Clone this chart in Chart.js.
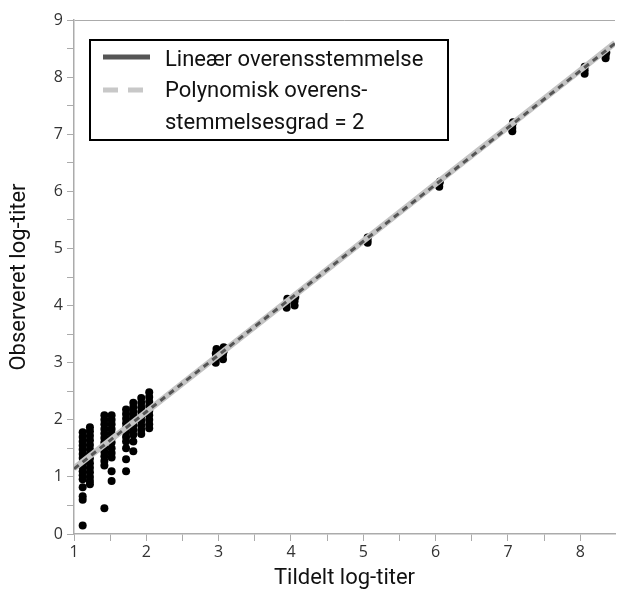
<!DOCTYPE html>
<html>
<head>
<meta charset="utf-8">
<script src="https://cdn.jsdelivr.net/npm/chart.js@4"></script>
<style>
  html, body { margin: 0; padding: 0; background: #fff; }
  #wrap { width: 619px; height: 592px; position: relative; }
</style>
</head>
<body>
<div id="wrap"><canvas id="titerChart"></canvas></div>
<script>
// observed points, one x per column of dots
const obsX = [
  1.12, 1.12, 1.12, 1.12, 1.12, 1.12, 1.12, 1.12, 1.12, 1.12, 1.12, 1.12, 1.12, 1.12, 1.12, 1.12,
  1.22, 1.22, 1.22, 1.22, 1.22, 1.22, 1.22, 1.22, 1.22, 1.22, 1.22, 1.22, 1.22, 1.22,
  1.42, 1.42, 1.42, 1.42, 1.42, 1.42, 1.42, 1.42, 1.42, 1.42, 1.42, 1.42, 1.42,
  1.52, 1.52, 1.52, 1.52, 1.52, 1.52, 1.52, 1.52, 1.52, 1.52, 1.52, 1.52,
  1.72, 1.72, 1.72, 1.72, 1.72, 1.72, 1.72, 1.72, 1.72, 1.72, 1.72,
  1.82, 1.82, 1.82, 1.82, 1.82, 1.82, 1.82, 1.82, 1.82, 1.82,
  1.93, 1.93, 1.93, 1.93, 1.93, 1.93, 1.93, 1.93, 1.93,
  2.04, 2.04, 2.04, 2.04, 2.04, 2.04, 2.04, 2.04, 2.04,
  2.96, 2.96, 2.96, 2.97, 3.06, 3.06, 3.07, 3.07,
  3.94, 3.94, 3.95, 4.05, 4.05, 4.06,
  5.06, 5.06, 5.06,
  6.05, 6.05, 6.06,
  7.06, 7.06, 7.06, 7.07,
  8.06, 8.06, 8.06,
  8.35, 8.35, 8.36
];
const obsY = [
  1.78, 1.70, 1.62, 1.55, 1.48, 1.40, 1.33, 1.25, 1.18, 1.10, 1.03, 0.96, 0.82, 0.66, 0.60, 0.15,
  1.87, 1.80, 1.72, 1.64, 1.56, 1.48, 1.40, 1.32, 1.24, 1.16, 1.08, 1.00, 0.93, 0.87,
  2.08, 2.00, 1.92, 1.84, 1.76, 1.68, 1.60, 1.52, 1.44, 1.36, 1.28, 1.20, 0.45,
  2.08, 2.00, 1.92, 1.84, 1.76, 1.68, 1.60, 1.50, 1.42, 1.34, 1.10, 0.93,
  2.18, 2.10, 2.02, 1.94, 1.86, 1.78, 1.70, 1.62, 1.50, 1.31, 1.10,
  2.30, 2.22, 2.14, 2.06, 1.98, 1.90, 1.82, 1.74, 1.62, 1.45,
  2.38, 2.30, 2.22, 2.14, 2.06, 1.98, 1.90, 1.82, 1.75,
  2.48, 2.40, 2.32, 2.24, 2.16, 2.08, 2.00, 1.92, 1.85,
  3.00, 3.08, 3.16, 3.24, 3.06, 3.14, 3.20, 3.27,
  3.96, 4.04, 4.12, 4.00, 4.08, 4.15,
  5.10, 5.15, 5.19,
  6.08, 6.13, 6.17,
  7.05, 7.11, 7.16, 7.21,
  8.06, 8.12, 8.18,
  8.33, 8.38, 8.43
];

// fitted lines
const fitX = [1, 2, 4, 6, 8, 8.48];
const linearY = [1.14, 2.14, 4.13, 6.12, 8.11, 8.59];
const polyY = [1.15, 2.14, 4.13, 6.13, 8.12, 8.60];

const xTicks = [1, 1.5, 2, 2.5, 3, 3.5, 4, 4.5, 5, 5.5, 6, 6.5, 7, 7.5, 8];
const yTicks = [0, 0.5, 1, 1.5, 2, 2.5, 3, 3.5, 4, 4.5, 5, 5.5, 6, 6.5, 7, 7.5, 8, 8.5, 9];

const xTitle = 'Tildelt log-titer';
const yTitle = 'Observeret log-titer';
const legendLines = ['Lineær overensstemmelse', 'Polynomisk overens-', 'stemmelsesgrad = 2'];

const axisGrey = '#ababab';
const titleFont = { family: 'Roboto', size: 22 };
const tickFont = { family: 'Open Sans', size: 16 };

function pairs(xs, ys) {
    return xs.map((x, i) => ({ x: x, y: ys[i] }));
}

// boxed legend in the upper left, drawn after the datasets
const boxLegend = {
    id: 'boxLegend',
    afterDraw(chart) {
        const ctx = chart.ctx;
        ctx.save();
        ctx.fillStyle = '#fff';
        ctx.fillRect(90, 40, 358, 100);
        ctx.strokeStyle = '#000';
        ctx.lineWidth = 2;
        ctx.strokeRect(90, 40, 358, 100);

        ctx.lineWidth = 5;
        ctx.strokeStyle = '#555';
        ctx.beginPath();
        ctx.moveTo(103, 57);
        ctx.lineTo(150, 57);
        ctx.stroke();

        ctx.strokeStyle = '#c8c8c8';
        ctx.setLineDash([15, 10]);
        ctx.beginPath();
        ctx.moveTo(103, 90);
        ctx.lineTo(143, 90);
        ctx.stroke();
        ctx.setLineDash([]);

        ctx.fillStyle = '#111';
        ctx.font = '22px Roboto';
        ctx.textBaseline = 'middle';
        const rowY = [60, 91, 123];
        legendLines.forEach((txt, i) => ctx.fillText(txt, 165, rowY[i]));
        ctx.restore();
    }
};

const ctx = document.getElementById('titerChart');
new Chart(ctx, {
    type: 'scatter',
    data: {
        datasets: [
            {
                label: legendLines[0],
                type: 'line',
                data: pairs(fitX, linearY),
                borderColor: '#555',
                borderWidth: 3,
                borderDash: [6, 5],
                pointRadius: 0,
                order: 0
            },
            {
                label: legendLines[1] + legendLines[2],
                type: 'line',
                data: pairs(fitX, polyY),
                borderColor: '#c4c4c4',
                borderWidth: 6,
                pointRadius: 0,
                order: 1
            },
            {
                label: 'Observeret',
                data: pairs(obsX, obsY),
                backgroundColor: '#000',
                borderWidth: 0,
                pointRadius: 4,
                order: 2
            }
        ]
    },
    options: {
        responsive: true,
        maintainAspectRatio: false,
        animation: false,
        layout: { padding: { top: 20, right: 0, left: 0, bottom: 0 } },
        scales: {
            x: {
                type: 'linear',
                min: 1,
                max: 8.48,
                afterBuildTicks: s => { s.ticks = xTicks.map(v => ({ value: v })); },
                afterFit: s => { s.height = 58; },
                grid: { drawOnChartArea: false, tickLength: 7, tickColor: axisGrey },
                border: { color: axisGrey, width: 1.5 },
                ticks: {
                    autoSkip: false,
                    maxRotation: 0,
                    padding: 2,
                    color: '#333',
                    font: tickFont,
                    callback: v => Number.isInteger(v) ? String(v) : ''
                },
                title: { display: true, text: xTitle, color: '#111', font: titleFont, padding: { top: 0, bottom: 0 } }
            },
            y: {
                type: 'linear',
                min: 0,
                max: 9,
                afterBuildTicks: s => { s.ticks = yTicks.map(v => ({ value: v })); },
                afterFit: s => { s.width = 74; },
                grid: {
                    drawOnChartArea: true,
                    color: c => (c.tick && c.tick.value === 9) ? axisGrey : 'rgba(0,0,0,0)',
                    tickColor: axisGrey,
                    tickLength: 7
                },
                border: { color: axisGrey, width: 1.5 },
                ticks: {
                    autoSkip: false,
                    padding: 4,
                    color: '#333',
                    font: tickFont,
                    callback: v => Number.isInteger(v) ? String(v) : ''
                },
                title: { display: true, text: yTitle, color: '#111', font: titleFont, padding: { top: 6, bottom: 0 } }
            }
        },
        plugins: {
            legend: { display: false },
            tooltip: { enabled: false }
        }
    },
    plugins: [boxLegend]
});
</script>
</body>
</html>
